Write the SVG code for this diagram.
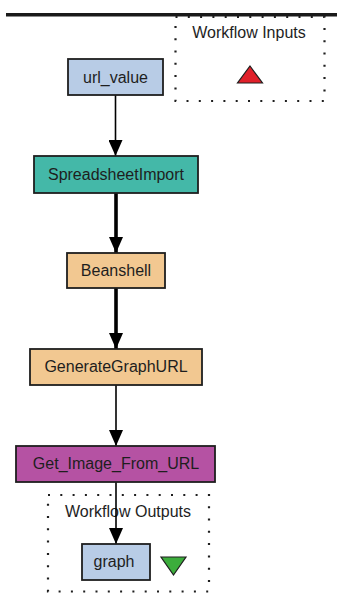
<svg xmlns="http://www.w3.org/2000/svg" width="337" height="593" viewBox="0 0 337 593">
<defs>
<style>
.node rect{stroke:#1e1e1e;stroke-width:1.8}
text{font-family:"Liberation Sans",Arial,sans-serif;font-size:16px;fill:#1e1e1e;text-anchor:middle}
.cluster{fill:none;stroke:#1e1e1e;stroke-width:2.2;stroke-dasharray:2 10.3;stroke-linecap:butt}
.edge{stroke:#000;fill:none}
.thin{stroke-width:1.6}
.thick{stroke-width:3.6}
</style>
<marker id="ah" markerUnits="userSpaceOnUse" viewBox="0 0 16 14" refX="16" refY="7" markerWidth="16" markerHeight="14" orient="auto">
<path d="M0,0 L16,7 L0,14 Z" fill="#000"/>
</marker>
</defs>
<rect x="6" y="13" width="331" height="3.5" fill="#1a1a1a"/>
<g id="workflow-inputs">
<rect class="cluster" x="175.5" y="17" width="149" height="84"/>
<text x="249" y="38">Workflow Inputs</text>
<path d="M250,66 L262.5,83 L237.5,83 Z" fill="#e0202a" stroke="#1e1e1e" stroke-width="1.2"/>
</g>
<g id="workflow-outputs">
<rect class="cluster" x="48" y="495" width="161" height="96.5"/>
<text x="128" y="517">Workflow Outputs</text>
<path d="M161,557 L186,557 L173.5,575 Z" fill="#3cad3c" stroke="#1e1e1e" stroke-width="1.2"/>
</g>
<g id="edges">
<line class="edge thin" x1="115.5" y1="95" x2="115.5" y2="156" marker-end="url(#ah)"/>
<line class="edge thick" x1="116" y1="193" x2="116" y2="253" marker-end="url(#ah)"/>
<line class="edge thick" x1="116" y1="288" x2="116" y2="349" marker-end="url(#ah)"/>
<line class="edge thin" x1="116" y1="385" x2="116" y2="446" marker-end="url(#ah)"/>
<line class="edge thin" x1="116" y1="482" x2="116" y2="544" marker-end="url(#ah)"/>
</g>
<g id="url_value" class="node">
<rect x="68" y="59" width="95" height="36" fill="#b8cce6"/>
<text x="115.5" y="83">url_value</text>
</g>
<g id="SpreadsheetImport" class="node">
<rect x="34" y="156" width="164" height="37" fill="#44b8a8"/>
<text x="116" y="180">SpreadsheetImport</text>
</g>
<g id="Beanshell" class="node">
<rect x="67" y="253" width="98" height="35" fill="#f2c891"/>
<text x="116" y="276">Beanshell</text>
</g>
<g id="GenerateGraphURL" class="node">
<rect x="30" y="349" width="172" height="36" fill="#f2c891"/>
<text x="116" y="372">GenerateGraphURL</text>
</g>
<g id="Get_Image_From_URL" class="node">
<rect x="16" y="446" width="199" height="36" fill="#b552a3"/>
<text x="116" y="469">Get_Image_From_URL</text>
</g>
<g id="graph" class="node">
<rect x="82" y="544" width="68" height="36" fill="#b8cce6"/>
<text x="114" y="567">graph</text>
</g>
</svg>
